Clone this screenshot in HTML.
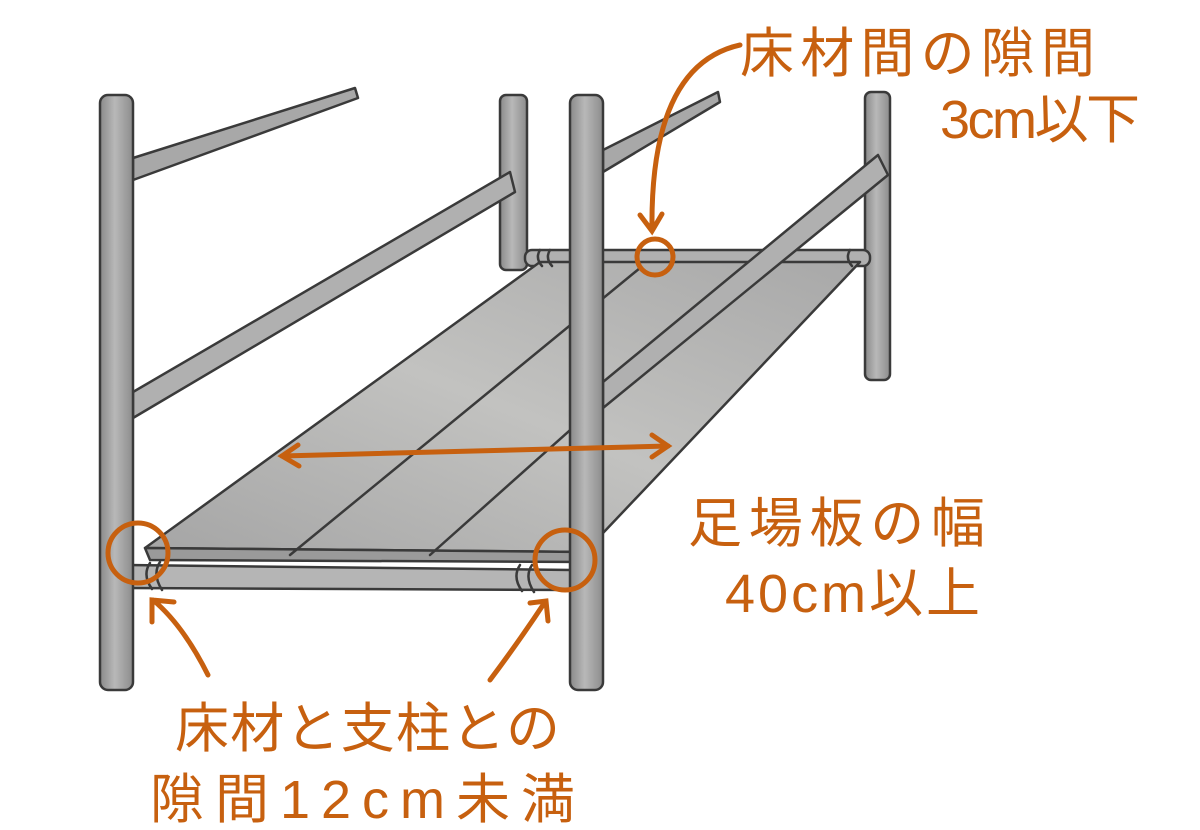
<!DOCTYPE html>
<html><head><meta charset="utf-8"><style>
html,body{margin:0;padding:0;background:#fff;}
svg{display:block}
text{font-family:"Liberation Sans","Noto Sans CJK JP",sans-serif;fill:#c7600f;}
</style></head><body>
<svg width="1200" height="830" viewBox="0 0 1200 830" xmlns="http://www.w3.org/2000/svg">
<defs>
<linearGradient id="pole" x1="0" x2="1" y1="0" y2="0">
<stop offset="0" stop-color="#8a8a8a"/><stop offset="0.45" stop-color="#b8b8b8"/><stop offset="1" stop-color="#8c8c8c"/></linearGradient>
<linearGradient id="board" x1="0" x2="1" y1="1" y2="0">
<stop offset="0" stop-color="#a5a5a5"/><stop offset="0.5" stop-color="#c2c2c0"/><stop offset="1" stop-color="#a8a8a8"/></linearGradient>
</defs>
<g stroke="#3a3a3a" stroke-width="2.5" stroke-linejoin="round" stroke-linecap="round">
<polygon points="133,158 355,88 358,98 133,180" fill="#a8a8a8"/>
<polygon points="603,150 718,92 720,102 603,172" fill="#a8a8a8"/>
<rect x="500" y="95" width="27" height="175" rx="6" fill="url(#pole)"/>
<rect x="865" y="92" width="25" height="288" rx="6" fill="url(#pole)"/>
<rect x="525" y="250" width="345" height="16" rx="7" fill="#b0b0b0"/>
<polygon points="145,548 540,262 860,262 585,552" fill="url(#board)"/>
<polygon points="145,548 585,552 585,562 150,560" fill="#9a9a9a"/>
<line x1="290" y1="555" x2="640" y2="268"/>
<line x1="430" y1="555" x2="752" y2="268"/>
<polygon points="122,565 572,570 572,590 122,588" fill="#b5b5b5"/>
<polygon points="133,392 510,172 515,192 133,418" fill="#b0b0b0"/>
<polygon points="603,382 878,155 888,175 603,408" fill="#b0b0b0"/>
<rect x="100" y="95" width="33" height="595" rx="8" fill="url(#pole)"/>
<rect x="570" y="95" width="33" height="595" rx="8" fill="url(#pole)"/>
<path d="M150 563 q-8 12 2 26 M160 562 q-8 12 2 28 M520 565 q-8 12 2 26 M532 565 q-8 12 2 27" fill="none"/>
<path d="M540 250 q-5 8 2 16 M550 250 q-5 8 2 16 M850 250 q-5 8 2 16" fill="none"/>
</g>
<g stroke="#c7600f" stroke-width="5" fill="none" stroke-linecap="round">
<circle cx="138" cy="553" r="30"/>
<circle cx="565" cy="560" r="30"/>
<circle cx="655" cy="257" r="18"/>
<line x1="282" y1="456" x2="668" y2="446"/>
<path d="M298 445 l-16 11 l17 10 M652 435 l16 11 l-16 11"/>
<path d="M740 45 q-90 20 -88 185 M640 215 l12 16 l10 -17"/>
<path d="M208 675 q-25 -50 -55 -75 M152 622 l0 -22 l22 2"/>
<path d="M490 680 q30 -40 55 -78 M530 603 l16 -2 l2 20"/>
</g>
<g font-size="54">
<text x="740" y="72" textLength="355" lengthAdjust="spacing">床材間の隙間</text>
<text x="940" y="138" textLength="200" lengthAdjust="spacing">3cm以下</text>
<text x="688" y="542" textLength="297" lengthAdjust="spacing">足場板の幅</text>
<text x="725" y="612" textLength="255" lengthAdjust="spacing">40cm以上</text>
<text x="175" y="747" textLength="385" lengthAdjust="spacing">床材と支柱との</text>
<text x="150" y="818" textLength="425" lengthAdjust="spacing">隙間12cm未満</text>
</g>
</svg>
</body></html>
